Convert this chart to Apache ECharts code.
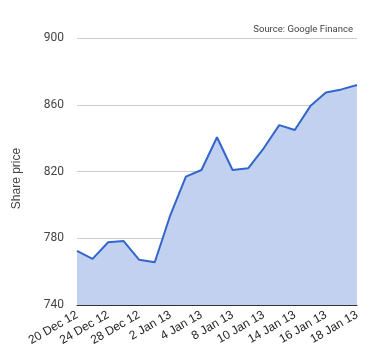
<!DOCTYPE html>
<html><head><meta charset="utf-8">
<script src="https://cdn.jsdelivr.net/npm/echarts@6/dist/echarts.min.js"></script>
<style>html,body{margin:0;padding:0;background:#fff}#c{width:380px;height:360px}</style>
</head><body><div id="c"></div>
<script>
const categories = ["20 Dec 12","21 Dec 12","24 Dec 12","26 Dec 12","28 Dec 12","31 Dec 12","2 Jan 13","3 Jan 13","4 Jan 13","7 Jan 13","8 Jan 13","9 Jan 13","10 Jan 13","11 Jan 13","14 Jan 13","15 Jan 13","16 Jan 13","17 Jan 13","18 Jan 13"];
const prices = [772.4,767.6,777.6,778.3,767.1,765.6,793.9,816.9,820.9,840.5,820.9,821.9,833.9,847.8,844.9,859.2,867.4,869.2,871.8];
const yTicks = [740,780,820,860,900];
const chart = echarts.init(document.getElementById('c'), null, {renderer:'canvas'});
chart.setOption({
  animation:false,
  grid:{left:77,right:23,top:38,bottom:55},
  title:{text:'Source: Google Finance',right:22,top:20,textStyle:{fontSize:9.5,fontWeight:'normal',color:'#444',fontFamily:'Roboto'}},
  xAxis:{type:'category',data:categories,boundaryGap:false,
    axisLine:{lineStyle:{color:'#333',width:1}},axisTick:{show:false},
    axisLabel:{interval:1,rotate:30,fontSize:12,color:'#222',fontFamily:'Arial, Liberation Sans',margin:9}},
  yAxis:{type:'value',min:yTicks[0],max:yTicks[yTicks.length-1],interval:40,
    name:'Share price',nameLocation:'middle',nameGap:54,nameTextStyle:{fontSize:12,color:'#444',fontFamily:'Arial, Liberation Sans',padding:[0,14,0,0]},
    axisLine:{show:false},axisTick:{show:false},
    axisLabel:{fontSize:12,color:'#444',margin:13,fontFamily:'Roboto'},
    splitLine:{lineStyle:{color:'#ccc',width:1}}},
  series:[{type:'line',data:prices,symbol:'none',lineStyle:{color:'#3366cc',width:2},
    areaStyle:{color:'#c2d1f0',opacity:1}}]
});
</script></body></html>
